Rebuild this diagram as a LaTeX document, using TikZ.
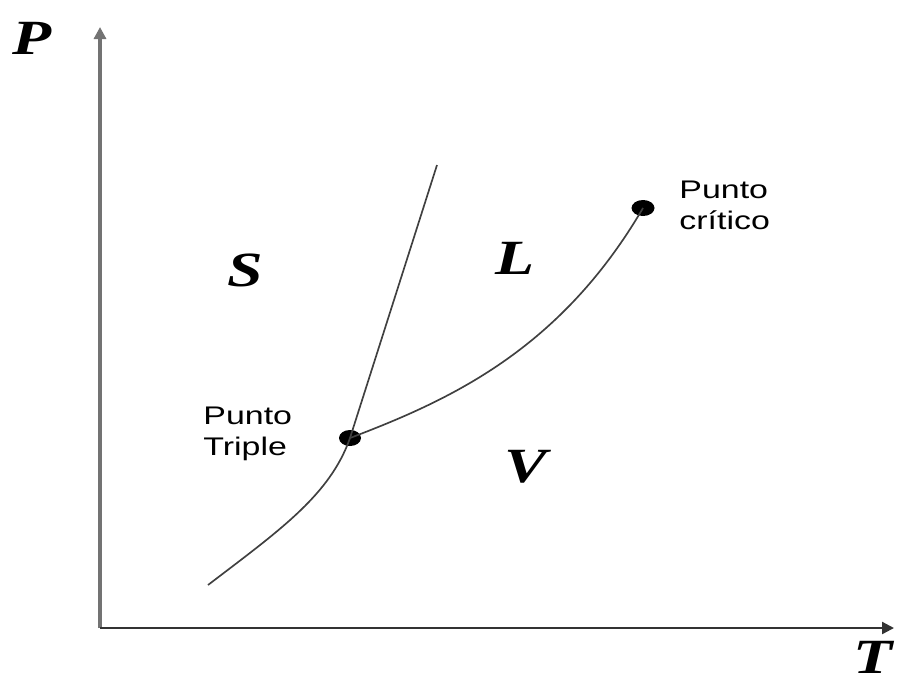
\documentclass[tikz,border=0pt]{standalone}
\usepackage{fontspec}
\setmainfont{Liberation Serif}
\setsansfont{Liberation Sans}
\usetikzlibrary{arrows.meta, shapes.geometric}

\begin{document}
\begin{tikzpicture}[
  x=0.2mm, y=-0.2mm,
  phase/.style={font=\fontsize{28}{30}\selectfont\bfseries\itshape,
                xscale=1.3, transform shape, inner sep=0pt},
  lbl/.style={font=\sffamily\fontsize{14.5}{17.6}\selectfont, align=left,
              xscale=1.33, transform shape, inner sep=0pt, anchor=west},
  dot/.style={ellipse, fill=black, inner sep=0pt,
              minimum width=4.4mm, minimum height=3.2mm},
  curve/.style={draw=black!75, line width=0.95pt},
  axis/.style={-{Triangle[length=2.4mm, width=2.4mm]}}]

  \useasboundingbox (0,0) rectangle (908,682);

  % axes
  \coordinate (O) at (100,628);
  \coordinate (ytip) at (100,27);
  \coordinate (xtip) at (894,628);
  \draw[axis, draw=black!55, fill=black!55, line width=2pt] (O) -- (ytip);
  \draw[axis, draw=black!80, line width=1.3pt] (O) -- (xtip);
  \node[phase] (P) at (32,38) {P};
  \node[phase] (T) at (873,657) {T};

  % points
  \node[dot] (tp) at (350,438) {};
  \node[dot, minimum width=4.6mm] (cp) at (643,208) {};
  \coordinate (sub) at (208,585);
  \coordinate (fus) at (437,165);

  % coexistence curves
  \draw[curve] (sub) .. controls (280,530) and (330,495) .. (tp.center);
  \draw[curve] (tp.center) -- (fus);
  \draw[curve] (tp.center) .. controls (450,400) and (560,350) .. (cp.center);

  % regions
  \node[phase] (S) at (245,270) {S};
  \node[phase] (L) at (515,258) {L};
  \node[phase] (V) at (526,467) {V};

  % labels
  \node[lbl] (tplbl) at (203,434) {Punto\\Triple};
  \node[lbl] (cplbl) at (679,205) {Punto\\crítico};
\end{tikzpicture}
\end{document}
